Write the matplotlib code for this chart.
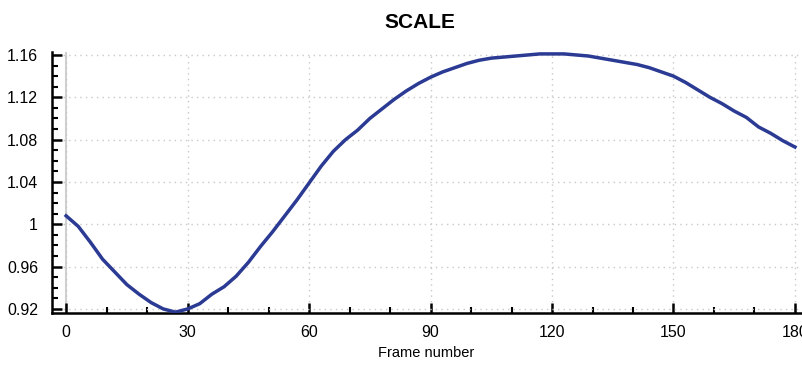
import matplotlib.pyplot as plt
from matplotlib.ticker import MultipleLocator, FuncFormatter

plt.rcParams['font.family'] = ['Liberation Sans', 'DejaVu Sans']

# scale values, every 3rd frame
frames = list(range(0, 181, 3))
scale = [1.008, 0.998, 0.983, 0.967, 0.955, 0.943, 0.934, 0.926, 0.920, 0.917,
         0.920, 0.925, 0.934, 0.941, 0.951, 0.964, 0.979, 0.993, 1.008, 1.023,
         1.039, 1.055, 1.069, 1.080, 1.089, 1.100, 1.109, 1.118, 1.126, 1.133,
         1.139, 1.144, 1.148, 1.152, 1.155, 1.157, 1.158, 1.159, 1.160, 1.161,
         1.161, 1.161, 1.160, 1.159, 1.157, 1.155, 1.153, 1.151, 1.148, 1.144,
         1.140, 1.134, 1.127, 1.120, 1.114, 1.107, 1.101, 1.092, 1.086, 1.079,
         1.073]

fig = plt.figure(figsize=(8.02, 3.65), dpi=100)
ax = fig.add_axes([0.0648, 0.1425, 0.934, 0.7156])

ax.grid(True, which='major', linestyle=(0, (1, 3)), color='#c8c8c8', linewidth=1)
ax.axvline(0, color='#d0d0d0', linewidth=1.5, zorder=1)
ax.plot(frames, scale, color='#2b3a93', linewidth=2.5, zorder=3)

ax.set_xlim(-3.5, 181.5)
ax.set_ylim(0.9162, 1.163)
ax.xaxis.set_major_locator(MultipleLocator(30))
ax.xaxis.set_minor_locator(MultipleLocator(10))
ax.yaxis.set_major_locator(MultipleLocator(0.04))
ax.yaxis.set_minor_locator(MultipleLocator(0.01))
ax.yaxis.set_major_formatter(FuncFormatter(lambda v, p: f"{v:.2f}".rstrip('0').rstrip('.')))

for s in ['top', 'right']:
    ax.spines[s].set_visible(False)
for s in ['left', 'bottom']:
    ax.spines[s].set_linewidth(1.8)

ax.tick_params(which='major', direction='in', length=7, width=1.8, labelsize=11.5)
ax.tick_params(axis='x', which='major', pad=9)
ax.tick_params(axis='y', which='major', pad=10)
ax.tick_params(which='minor', direction='in', length=4, width=1.5)

ax.set_xlabel("Frame number", fontsize=10.5, labelpad=4)
fig.text(0.523, 0.937, "SCALE", fontsize=15, fontweight='bold', ha='center', va='center')

plt.savefig("out.png", dpi=100)
